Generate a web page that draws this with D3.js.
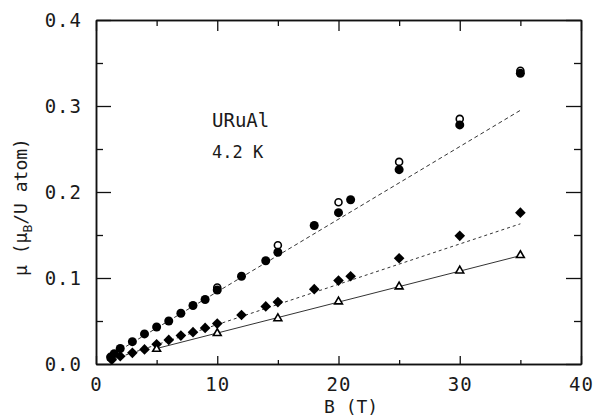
<!DOCTYPE html>
<html>
<head>
<meta charset="utf-8">
<script src="https://cdn.jsdelivr.net/npm/d3@7"></script>
<style>
  html, body { margin: 0; padding: 0; background: #fff; }
  svg { display: block; }
  text { font-family: "DejaVu Sans Mono", monospace; fill: #1a1a1a; }
</style>
</head>
<body>
<svg id="chart" width="594" height="419"></svg>
<script>
// ---- data ----
const filledB  = [1.2, 1.5, 2, 3, 4, 5, 6, 7, 8, 9, 10, 12, 14, 15, 18, 20, 21, 25, 30, 35];
const filledMu = [0.008, 0.012, 0.018, 0.026, 0.035, 0.043, 0.050, 0.059, 0.068, 0.075, 0.086, 0.102, 0.120, 0.130, 0.161, 0.176, 0.191, 0.226, 0.278, 0.338];

const openB  = [10, 15, 20, 25, 30, 35];
const openMu = [0.089, 0.138, 0.188, 0.235, 0.285, 0.341];

const diamondB  = [1.3, 2, 3, 4, 5, 6, 7, 8, 9, 10, 12, 14, 15, 18, 20, 21, 25, 30, 35];
const diamondMu = [0.005, 0.009, 0.013, 0.017, 0.023, 0.028, 0.033, 0.037, 0.042, 0.047, 0.057, 0.067, 0.072, 0.087, 0.097, 0.102, 0.123, 0.149, 0.176];

const triB  = [5, 10, 15, 20, 25, 30, 35];
const triMu = [0.0174, 0.0357, 0.053, 0.0725, 0.090, 0.1085, 0.1264];

// fitted straight lines (end points)
const fitCircleB = [1, 35],   fitCircleMu = [0.008, 0.295];
const fitDiamondB = [1.5, 35], fitDiamondMu = [0.006, 0.163];
const fitTriB = [5, 35],      fitTriMu = [0.018, 0.126];

const xMajor = [0, 10, 20, 30, 40];
const xMinor = [5, 15, 25, 35];
const yMajor = [0, 0.1, 0.2, 0.3, 0.4];
const yMinor = [0.05, 0.15, 0.25, 0.35];

// ---- layout ----
const svg = d3.select("#chart");
const L = 96, R = 581, T = 20, B = 364;
const x = d3.scaleLinear().domain([0, 40]).range([L, R]);
const y = d3.scaleLinear().domain([0, 0.4]).range([B, T]);

const zip = (a, b) => a.map((v, i) => [v, b[i]]);

function styleAxis(g) {
  g.select(".domain").attr("stroke", "#111").attr("stroke-width", 1.5);
  g.selectAll(".tick line").attr("stroke", "#111").attr("stroke-width", 1.3);
  g.selectAll(".tick text").style("font-family", "DejaVu Sans Mono, monospace")
    .style("font-size", "19px").attr("fill", "#1a1a1a").style("letter-spacing", "1px");
}

// bottom
svg.append("g").attr("transform", `translate(0,${B})`)
  .call(d3.axisBottom(x).tickValues(xMajor).tickSize(-8).tickPadding(14).tickFormat(d3.format("d")).tickSizeOuter(0))
  .call(styleAxis);
svg.append("g").attr("transform", `translate(0,${B})`)
  .call(d3.axisBottom(x).tickValues(xMinor).tickSize(-4).tickFormat("").tickSizeOuter(0))
  .call(styleAxis);
// top
svg.append("g").attr("transform", `translate(0,${T})`)
  .call(d3.axisTop(x).tickValues(xMajor).tickSize(-11).tickFormat("").tickSizeOuter(0))
  .call(styleAxis);
svg.append("g").attr("transform", `translate(0,${T})`)
  .call(d3.axisTop(x).tickValues(xMinor).tickSize(-6).tickFormat("").tickSizeOuter(0))
  .call(styleAxis);
// left
svg.append("g").attr("transform", `translate(${L},0)`)
  .call(d3.axisLeft(y).tickValues(yMajor).tickSize(-15).tickPadding(14).tickFormat(d3.format(".1f")).tickSizeOuter(0))
  .call(styleAxis);
svg.append("g").attr("transform", `translate(${L},0)`)
  .call(d3.axisLeft(y).tickValues(yMinor).tickSize(-7).tickFormat("").tickSizeOuter(0))
  .call(styleAxis);
// right
svg.append("g").attr("transform", `translate(${R},0)`)
  .call(d3.axisRight(y).tickValues(yMajor).tickSize(-15).tickFormat("").tickSizeOuter(0))
  .call(styleAxis);
svg.append("g").attr("transform", `translate(${R},0)`)
  .call(d3.axisRight(y).tickValues(yMinor).tickSize(-7).tickFormat("").tickSizeOuter(0))
  .call(styleAxis);

// fit lines
const line = d3.line().x(d => x(d[0])).y(d => y(d[1]));
svg.append("path").datum(zip(fitCircleB, fitCircleMu)).attr("d", line)
  .attr("fill", "none").attr("stroke", "#333").attr("stroke-width", 1).attr("stroke-dasharray", "4,3");
svg.append("path").datum(zip(fitDiamondB, fitDiamondMu)).attr("d", line)
  .attr("fill", "none").attr("stroke", "#333").attr("stroke-width", 1).attr("stroke-dasharray", "3,3");
svg.append("path").datum(zip(fitTriB, fitTriMu)).attr("d", line)
  .attr("fill", "none").attr("stroke", "#333").attr("stroke-width", 1);

// markers
svg.append("g").selectAll("circle").data(zip(openB, openMu)).join("circle")
  .attr("cx", d => x(d[0])).attr("cy", d => y(d[1])).attr("r", 3.5)
  .attr("fill", "#fff").attr("stroke", "#000").attr("stroke-width", 1.6);

svg.append("g").selectAll("circle").data(zip(filledB, filledMu)).join("circle")
  .attr("cx", d => x(d[0])).attr("cy", d => y(d[1])).attr("r", 4.5)
  .attr("fill", "#000");

const diamond = d3.symbol().type(d3.symbolDiamond2).size(72);
svg.append("g").selectAll("path").data(zip(diamondB, diamondMu)).join("path")
  .attr("transform", d => `translate(${x(d[0])},${y(d[1])})`)
  .attr("d", diamond).attr("fill", "#000");

const tri = d3.symbol().type(d3.symbolTriangle2).size(44);
svg.append("g").selectAll("path").data(zip(triB, triMu)).join("path")
  .attr("transform", d => `translate(${x(d[0])},${y(d[1])})`)
  .attr("d", tri).attr("fill", "#fff").attr("stroke", "#000").attr("stroke-width", 1.6);

// annotations
svg.append("text").attr("x", 212).attr("y", 127).style("font-size", "19px").text("URuAl");
svg.append("text").attr("x", 212).attr("y", 158).style("font-size", "17px").text("4.2 K");

// axis titles
svg.append("text").attr("x", 324).attr("y", 413).style("font-size", "18px").text("B  (T)");

const yt = svg.append("text").attr("transform", "translate(27,207) rotate(-90)")
  .attr("text-anchor", "middle").style("font-size", "18px");
yt.append("tspan").text("μ (μ");
yt.append("tspan").attr("dy", 5).style("font-size", "13px").text("B");
yt.append("tspan").attr("dy", -5).text("/U atom)");
</script>
</body>
</html>
